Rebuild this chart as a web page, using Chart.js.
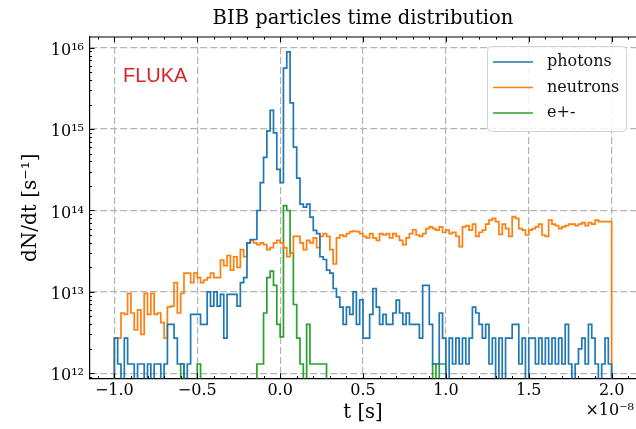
<!DOCTYPE html>
<html>
<head>
<meta charset="utf-8">
<script src="https://cdn.jsdelivr.net/npm/chart.js@4.4.0/dist/chart.umd.min.js"></script>
<style>
    html, body { margin: 0; padding: 0; overflow: hidden; background: #fff; }
    canvas { display: block; }
</style>
</head>
<body>
<canvas id="myChart" width="640" height="429"></canvas>
<script>
// time axis is in units of 1e-8 s, 150 bins of 0.02 from -1.0 to 2.0
const binStart = -1.0;
const binWidth = 0.02;

const photons = [
    2.7e12, 1.3e12, 0, 2.7e12, 1.3e12, 1.3e12, 0, 1.3e12, 1.3e12, 0,
    1.3e12, 0, 1.3e12, 1.3e12, 0, 1.3e12, 4e12, 4e12, 2.7e12, 1.3e12,
    1.3e12, 0, 1.3e12, 5.3e12, 5.3e12, 5.3e12, 4e12, 4e12, 1e13, 6.7e12,
    1e13, 6.7e12, 9.3e12, 2.7e12, 9.3e12, 9.3e12, 9.3e12, 6.7e12, 1.3e13, 1.5e13,
    4e13, 4.4e13, 4.4e13, 1e14, 2.2e14, 4.5e14, 9.5e14, 1.7e15, 9e14, 3.2e14,
    2.2e14, 5.6e15, 8.9e15, 2.1e15, 6e14, 2.5e14, 1.2e14, 1.1e14, 1.2e14, 8.3e13,
    5.7e13, 5.2e13, 2.7e13, 2.5e13, 1.85e13, 1.7e13, 1.1e13, 8.6e12, 6.5e12, 4e12,
    6.5e12, 5.3e12, 1e13, 4e12, 8e12, 2.7e12, 2.7e12, 5.3e12, 1.1e13, 6.5e12,
    4e12, 5.3e12, 4e12, 4e12, 5.5e12, 7.9e12, 5.5e12, 4e12, 5.5e12, 4e12,
    4e12, 4e12, 2.7e12, 1.2e13, 1.2e13, 4e12, 1.3e12, 1.3e12, 5.5e12, 2.7e12,
    0, 2.7e12, 1.3e12, 2.7e12, 1.3e12, 2.7e12, 1.3e12, 2.7e12, 6.5e12, 5.5e12,
    4e12, 2.7e12, 4e12, 1.3e12, 2.7e12, 0, 2.7e12, 0, 2.7e12, 2.7e12,
    4e12, 4e12, 1.3e12, 2.7e12, 0, 2.7e12, 2.7e12, 1.3e12, 2.7e12, 1.3e12,
    2.7e12, 1.3e12, 2.7e12, 1.3e12, 2.7e12, 1.3e12, 4e12, 1.3e12, 0, 1.3e12,
    2e12, 2.7e12, 1.3e12, 4e12, 2.7e12, 1.3e12, 0, 1.3e12, 2.7e12, 1.3e12
];

const neutrons = [
    2.7e12, 2.7e12, 5.5e12, 5.3e12, 9.6e12, 5.5e12, 3.4e12, 6e12, 3e12, 9.6e12,
    5.3e12, 9.6e12, 5.3e12, 5.5e12, 4.2e12, 2.7e12, 6.5e12, 6.7e12, 1.3e13, 5.5e12,
    9.6e12, 1.7e13, 1.7e13, 1.3e13, 1.7e13, 1.5e13, 1.3e13, 1.4e13, 1.5e13, 1.7e13,
    1.5e13, 1.5e13, 2.45e13, 2.1e13, 2.8e13, 1.85e13, 2.7e13, 2e13, 3.3e13, 2.7e13,
    4e13, 4.3e13, 4e13, 3.8e13, 4e13, 3.8e13, 3.3e13, 3.5e13, 4e13, 4.3e13,
    4e13, 3.5e13, 2.7e13, 3e13, 4.8e13, 4.8e13, 4e13, 3.3e13, 4.3e13, 4e13,
    4.6e13, 3.5e13, 4.8e13, 5.2e13, 4.8e13, 3.3e13, 2.2e13, 4.6e13, 5e13, 4.8e13,
    5.2e13, 5.5e13, 5.6e13, 5.5e13, 5.2e13, 4.8e13, 4.6e13, 5.2e13, 4.6e13, 4.3e13,
    5.2e13, 5e13, 5.2e13, 4.6e13, 5.2e13, 4.8e13, 4.3e13, 3.8e13, 4.6e13, 5.2e13,
    5.8e13, 5e13, 4.8e13, 5.2e13, 6e13, 6.3e13, 6e13, 5.75e13, 6.3e13, 5.4e13,
    5.75e13, 5.2e13, 5.4e13, 4.8e13, 3.6e13, 6.3e13, 6.5e13, 5.75e13, 6.8e13, 4.8e13,
    5.4e13, 5.75e13, 6.8e13, 7.6e13, 8e13, 7.3e13, 5.1e13, 6.8e13, 6e13, 4.8e13,
    8.4e13, 8e13, 6e13, 5.75e13, 5e13, 5.75e13, 6e13, 6.3e13, 6.8e13, 5e13,
    4.8e13, 7.6e13, 6.8e13, 6.5e13, 6e13, 6.3e13, 6.5e13, 6.8e13, 6.8e13, 6.5e13,
    6.8e13, 7.1e13, 6.5e13, 7.1e13, 6.8e13, 7.6e13, 7.3e13, 7.3e13, 7.3e13, 7.3e13
];

const electrons = [
    0, 0, 0, 0, 0, 0, 0, 0, 0, 0,
    0, 0, 0, 0, 0, 0, 0, 0, 0, 0,
    1.3e12, 0, 0, 0, 0, 1.3e12, 0, 0, 0, 0,
    0, 0, 0, 0, 0, 0, 0, 0, 0, 0,
    0, 0, 0, 1.3e12, 1.3e12, 5.5e12, 1.5e13, 1.8e13, 1.2e13, 4e12,
    2.8e12, 1.15e14, 1e14, 3e13, 7e12, 2.7e12, 1.3e12, 0, 4e12, 1.3e12,
    1.3e12, 1.3e12, 1.3e12, 1.3e12, 0, 0, 0, 0, 0, 0,
    0, 0, 0, 0, 0, 0, 0, 0, 0, 0,
    0, 0, 0, 0, 0, 0, 0, 0, 0, 0,
    0, 0, 0, 0, 0, 0, 1.3e12, 0, 1.3e12, 1.3e12,
    0, 0, 0, 0, 0, 0, 0, 0, 0, 0,
    0, 0, 0, 0, 0, 0, 0, 0, 0, 0,
    0, 0, 0, 0, 0, 0, 0, 0, 0, 0,
    0, 0, 0, 0, 0, 0, 0, 0, 0, 0,
    0, 0, 0, 0, 0, 0, 0, 0, 0, 0
];

const seriesLabels = ['photons', 'neutrons', 'e+-'];
const seriesColors = ['#1f77b4', '#ff7f0e', '#2ca02c'];

const xTickValues = [-1.0, -0.5, 0.0, 0.5, 1.0, 1.5, 2.0];
const xTickLabels = ['\u22121.0', '\u22120.5', '0.0', '0.5', '1.0', '1.5', '2.0'];
const yTickValues = [1e12, 1e13, 1e14, 1e15, 1e16];
const yTickLabels = ['10\u00b9\u00b2', '10\u00b9\u00b3', '10\u00b9\u2074', '10\u00b9\u2075', '10\u00b9\u2076'];

const serif = 'DejaVu Serif';
const offAxis = 1e11;   // empty bins fall below the axis

/**
 * Turns bin contents into points of an outlined step histogram.
 * @param {number[]} values
 */
function stepPoints(values) {
    const pts = [{x: binStart, y: offAxis}];
    values.forEach((v, i) => {
        pts.push({x: binStart + i * binWidth, y: v > 0 ? v : offAxis});
    });
    pts.push({x: binStart + values.length * binWidth, y: offAxis});
    return pts;
}

const frame = {
    id: 'frame',
    afterDatasetsDraw(chart) {
        const ctx = chart.ctx;
        const a = chart.chartArea;
        const xs = chart.scales.x;
        const ys = chart.scales.y;
        ctx.save();
        ctx.strokeStyle = '#000';
        ctx.lineWidth = 1.2;
        ctx.beginPath();
        ctx.moveTo(a.left, a.top);
        ctx.lineTo(a.right, a.top);
        ctx.stroke();

        // inward ticks on bottom, top and left
        ctx.lineWidth = 1;
        ctx.beginPath();
        for (let k = -11; k <= 21; k++) {
            const px = Math.round(xs.getPixelForValue(k / 10)) + 0.5;
            const len = (k % 5 === 0) ? 5 : 2.5;
            ctx.moveTo(px, a.bottom); ctx.lineTo(px, a.bottom - len);
            ctx.moveTo(px, a.top); ctx.lineTo(px, a.top + len);
        }
        for (let d = 11; d <= 16; d++) {
            for (let m = 1; m <= 9; m++) {
                const v = m * Math.pow(10, d);
                if (v < ys.min || v > ys.max) continue;
                const py = Math.round(ys.getPixelForValue(v)) + 0.5;
                const len = (m === 1) ? 5 : 2.5;
                ctx.moveTo(a.left, py); ctx.lineTo(a.left + len, py);
            }
        }
        ctx.stroke();

        // FLUKA tag
        ctx.fillStyle = '#d62728';
        ctx.font = '20px "Liberation Sans"';
        ctx.textAlign = 'left';
        ctx.textBaseline = 'alphabetic';
        ctx.fillText('FLUKA', 123, 82);

        // legend
        const lx = 487.5, ly = 46.5, lw = 139, lh = 85, r = 4;
        ctx.beginPath();
        ctx.moveTo(lx + r, ly);
        ctx.arcTo(lx + lw, ly, lx + lw, ly + lh, r);
        ctx.arcTo(lx + lw, ly + lh, lx, ly + lh, r);
        ctx.arcTo(lx, ly + lh, lx, ly, r);
        ctx.arcTo(lx, ly, lx + lw, ly, r);
        ctx.closePath();
        ctx.fillStyle = 'rgba(255,255,255,0.85)';
        ctx.fill();
        ctx.strokeStyle = '#d2d2d2';
        ctx.lineWidth = 1;
        ctx.stroke();
        ctx.font = '16px "' + serif + '"';
        ctx.textBaseline = 'middle';
        chart.data.datasets.forEach((ds, i) => {
            const rowY = 62 + i * 25.5;
            ctx.strokeStyle = ds.borderColor;
            ctx.lineWidth = 1.7;
            ctx.beginPath();
            ctx.moveTo(493, rowY);
            ctx.lineTo(533, rowY);
            ctx.stroke();
            ctx.fillStyle = '#111';
            ctx.fillText(ds.label, 547, rowY);
        });

        // offset text of the time axis
        ctx.fillStyle = '#000';
        ctx.textAlign = 'right';
        ctx.textBaseline = 'middle';
        ctx.font = '16px "' + serif + '"';
        ctx.fillText('\u00d710\u207b\u2078', 634, 411);
        ctx.restore();
    }
};

const gridStyle = {color: '#b4b4b4', lineWidth: 1.2, drawTicks: false};
const borderStyle = {display: true, color: '#000', width: 1.2, dash: [7, 3]};

const myChart = new Chart('myChart', {
    type: 'line',
    data: {
        datasets: [photons, neutrons, electrons].map((vals, i) => ({
            label: seriesLabels[i],
            data: stepPoints(vals),
            borderColor: seriesColors[i],
            borderWidth: 1.7,
            pointRadius: 0,
            fill: false,
            stepped: 'before',
            tension: 0
        }))
    },
    options: {
        responsive: false,
        animation: false,
        layout: {padding: {top: 0, right: 3.5, bottom: 0, left: 0}},
        plugins: {
            legend: {display: false},
            tooltip: {enabled: false},
            title: {
                display: true,
                text: 'BIB particles time distribution',
                fullSize: false,
                color: '#000',
                font: {family: serif, size: 19.5, weight: 'normal'},
                padding: {top: 7.5, bottom: 6.1}
            }
        },
        scales: {
            x: {
                type: 'linear',
                min: -1.15,
                max: 2.15,
                bounds: 'data',
                grid: gridStyle,
                border: borderStyle,
                afterBuildTicks: (scale) => { scale.ticks = xTickValues.map(v => ({value: v})); },
                afterFit: (scale) => { scale.height = 50.5; },
                ticks: {
                    color: '#000',
                    padding: 3,
                    maxRotation: 0,
                    font: {family: serif, size: 16},
                    callback: (v, i) => xTickLabels[i]
                },
                title: {
                    display: true,
                    text: 't [s]',
                    color: '#000',
                    font: {family: serif, size: 19.5},
                    padding: {top: 0, bottom: 4}
                }
            },
            y: {
                type: 'logarithmic',
                min: Math.pow(10, 11.936),
                max: Math.pow(10, 16.131),
                bounds: 'data',
                grid: gridStyle,
                border: borderStyle,
                afterBuildTicks: (scale) => { scale.ticks = yTickValues.map(v => ({value: v})); },
                afterFit: (scale) => { scale.width = 89.5; },
                ticks: {
                    color: '#000',
                    padding: 5.5,
                    labelOffset: 3,
                    font: {family: serif, size: 16},
                    callback: (v, i) => yTickLabels[i]
                },
                title: {
                    display: true,
                    text: 'dN/dt [s\u207b\u00b9]',
                    color: '#000',
                    font: {family: serif, size: 20},
                    padding: {top: 19, bottom: 0}
                }
            }
        }
    },
    plugins: [frame]
});
</script>
</body>
</html>
